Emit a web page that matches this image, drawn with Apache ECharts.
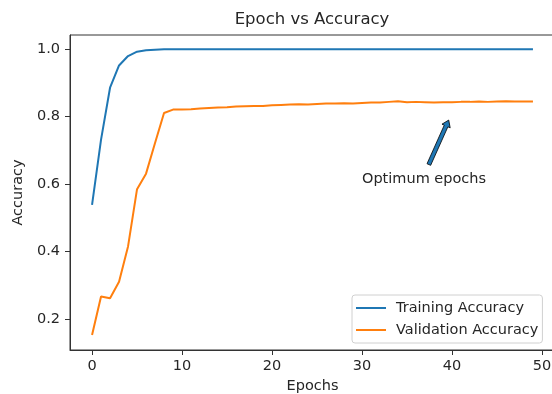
<!DOCTYPE html>
<html>
<head>
<meta charset="utf-8">
<script src="https://cdn.jsdelivr.net/npm/echarts@6/dist/echarts.min.js"></script>
<style>
  html, body { margin: 0; padding: 0; background: #fff; }
  #chart { width: 552px; height: 394px; }
</style>
</head>
<body>
<div id="chart"></div>
<script>
// epochs on the x axis
const epochs = [0, 1, 2, 3, 4, 5, 6, 7, 8, 9, 10, 11, 12, 13, 14, 15, 16, 17, 18, 19,
  20, 21, 22, 23, 24, 25, 26, 27, 28, 29, 30, 31, 32, 33, 34, 35, 36, 37, 38, 39,
  40, 41, 42, 43, 44, 45, 46, 47, 48, 49]

const trainAcc = [0.538, 0.732, 0.886, 0.952, 0.980, 0.993, 0.997, 0.999, 1.0, 1.0,
  1.0, 1.0, 1.0, 1.0, 1.0, 1.0, 1.0, 1.0, 1.0, 1.0,
  1.0, 1.0, 1.0, 1.0, 1.0, 1.0, 1.0, 1.0, 1.0, 1.0,
  1.0, 1.0, 1.0, 1.0, 1.0, 1.0, 1.0, 1.0, 1.0, 1.0,
  1.0, 1.0, 1.0, 1.0, 1.0, 1.0, 1.0, 1.0, 1.0, 1.0]
const valAcc = [0.152, 0.266, 0.261, 0.310, 0.415, 0.585, 0.631, 0.722, 0.811, 0.821,
  0.821, 0.822, 0.824, 0.826, 0.827, 0.828, 0.830, 0.831, 0.832, 0.832,
  0.834, 0.835, 0.836, 0.837, 0.836, 0.838, 0.839, 0.839, 0.840, 0.839,
  0.841, 0.842, 0.842, 0.844, 0.846, 0.843, 0.844, 0.843, 0.842, 0.843,
  0.843, 0.844, 0.844, 0.845, 0.844, 0.845, 0.846, 0.845, 0.845, 0.845]

const xTicks = [0, 10, 20, 30, 40, 50]
const yTicks = [0.2, 0.4, 0.6, 0.8, 1.0]

// annotation (data coords)
const annotText = 'Optimum epochs'
const annotTextAt = [30, 0.6]
const arrowTail = [37.43, 0.658]
const arrowHead = [39.64, 0.79]

const FONT = 'DejaVu Sans'
const TXT = '#262626'
const SPINE = '#333'

const chart = echarts.init(document.getElementById('chart'), null, { renderer: 'canvas' })

function pairs(ys) {
  return epochs.map((e, i) => [e, ys[i]])
}

chart.setOption({
  animation: false,
  title: {
    text: 'Epoch vs Accuracy',
    left: 312,
    textAlign: 'center',
    top: 11,
    padding: 0,
    textStyle: { fontFamily: FONT, fontSize: 16.5, fontWeight: 'normal', color: TXT }
  },
  grid: {
    left: 70,
    right: -3,
    top: 35,
    bottom: 44,
    show: true,
    borderColor: SPINE,
    borderWidth: 1,
    outerBoundsMode: 'none'
  },
  legend: {
    data: ['Training Accuracy', 'Validation Accuracy'],
    orient: 'vertical',
    left: 352,
    top: 295,
    icon: 'rect',
    itemWidth: 30,
    itemHeight: 2,
    itemGap: 6,
    padding: [5, 4, 5, 4],
    borderColor: '#d0d0d0',
    borderWidth: 1,
    borderRadius: 3,
    backgroundColor: 'rgba(255,255,255,0.8)',
    textStyle: { fontFamily: FONT, fontSize: 14.5, color: TXT, lineHeight: 16, padding: [0, 0, 0, 5] }
  },
  xAxis: {
    type: 'value',
    min: -2.45,
    max: 51.45,
    name: 'Epochs',
    nameLocation: 'middle',
    nameGap: 29,
    nameTextStyle: { fontFamily: FONT, fontSize: 14.5, color: TXT },
    axisLine: { show: true, onZero: false, lineStyle: { color: SPINE, width: 1 } },
    axisTick: { show: true, length: 5, customValues: xTicks, lineStyle: { color: SPINE } },
    axisLabel: { customValues: xTicks, margin: 9, fontFamily: FONT, fontSize: 14.5, color: TXT },
    splitLine: { show: false }
  },
  yAxis: {
    type: 'value',
    min: 0.1075,
    max: 1.0425,
    name: 'Accuracy',
    nameLocation: 'middle',
    nameGap: 41,
    nameTextStyle: { fontFamily: FONT, fontSize: 14.5, color: TXT },
    axisLine: { show: true, onZero: false, lineStyle: { color: SPINE, width: 1 } },
    axisTick: { show: true, length: 5, customValues: yTicks, lineStyle: { color: SPINE } },
    axisLabel: {
      customValues: yTicks,
      margin: 10,
      fontFamily: FONT,
      fontSize: 14.5,
      color: TXT,
      formatter: v => v.toFixed(1)
    },
    splitLine: { show: false }
  },
  series: [
    {
      name: 'Training Accuracy',
      type: 'line',
      data: pairs(trainAcc),
      symbol: 'none',
      color: '#1f77b4',
      lineStyle: { width: 2, color: '#1f77b4' }
    },
    {
      name: 'Validation Accuracy',
      type: 'line',
      data: pairs(valAcc),
      symbol: 'none',
      color: '#ff7f0e',
      lineStyle: { width: 2, color: '#ff7f0e' }
    },
    {
      type: 'custom',
      data: [annotTextAt],
      silent: true,
      clip: false,
      renderItem(params, api) {
        const p0 = api.coord(arrowTail)
        const p1 = api.coord(arrowHead)
        const dx = p1[0] - p0[0]
        const dy = p1[1] - p0[1]
        const len = Math.sqrt(dx * dx + dy * dy)
        const ux = dx / len, uy = dy / len
        const nx = -uy, ny = ux
        const w = 2, hw = 4.5, hl = 6.5
        const b = [p1[0] - ux * hl, p1[1] - uy * hl]
        const pts = [
          [p0[0] + nx * w, p0[1] + ny * w],
          [b[0] + nx * w, b[1] + ny * w],
          [b[0] + nx * hw, b[1] + ny * hw],
          p1,
          [b[0] - nx * hw, b[1] - ny * hw],
          [b[0] - nx * w, b[1] - ny * w],
          [p0[0] - nx * w, p0[1] - ny * w]
        ]
        const t = api.coord(annotTextAt)
        return {
          type: 'group',
          children: [
            {
              type: 'polygon',
              shape: { points: pts },
              style: { fill: '#1f77b4', stroke: '#000', lineWidth: 0.8 }
            },
            {
              type: 'text',
              x: t[0],
              y: t[1] - 5,
              style: {
                text: annotText,
                fontFamily: FONT,
                fontSize: 14.5,
                fill: TXT,
                align: 'left',
                verticalAlign: 'middle'
              }
            }
          ]
        }
      }
    }
  ]
})
</script>
</body>
</html>
